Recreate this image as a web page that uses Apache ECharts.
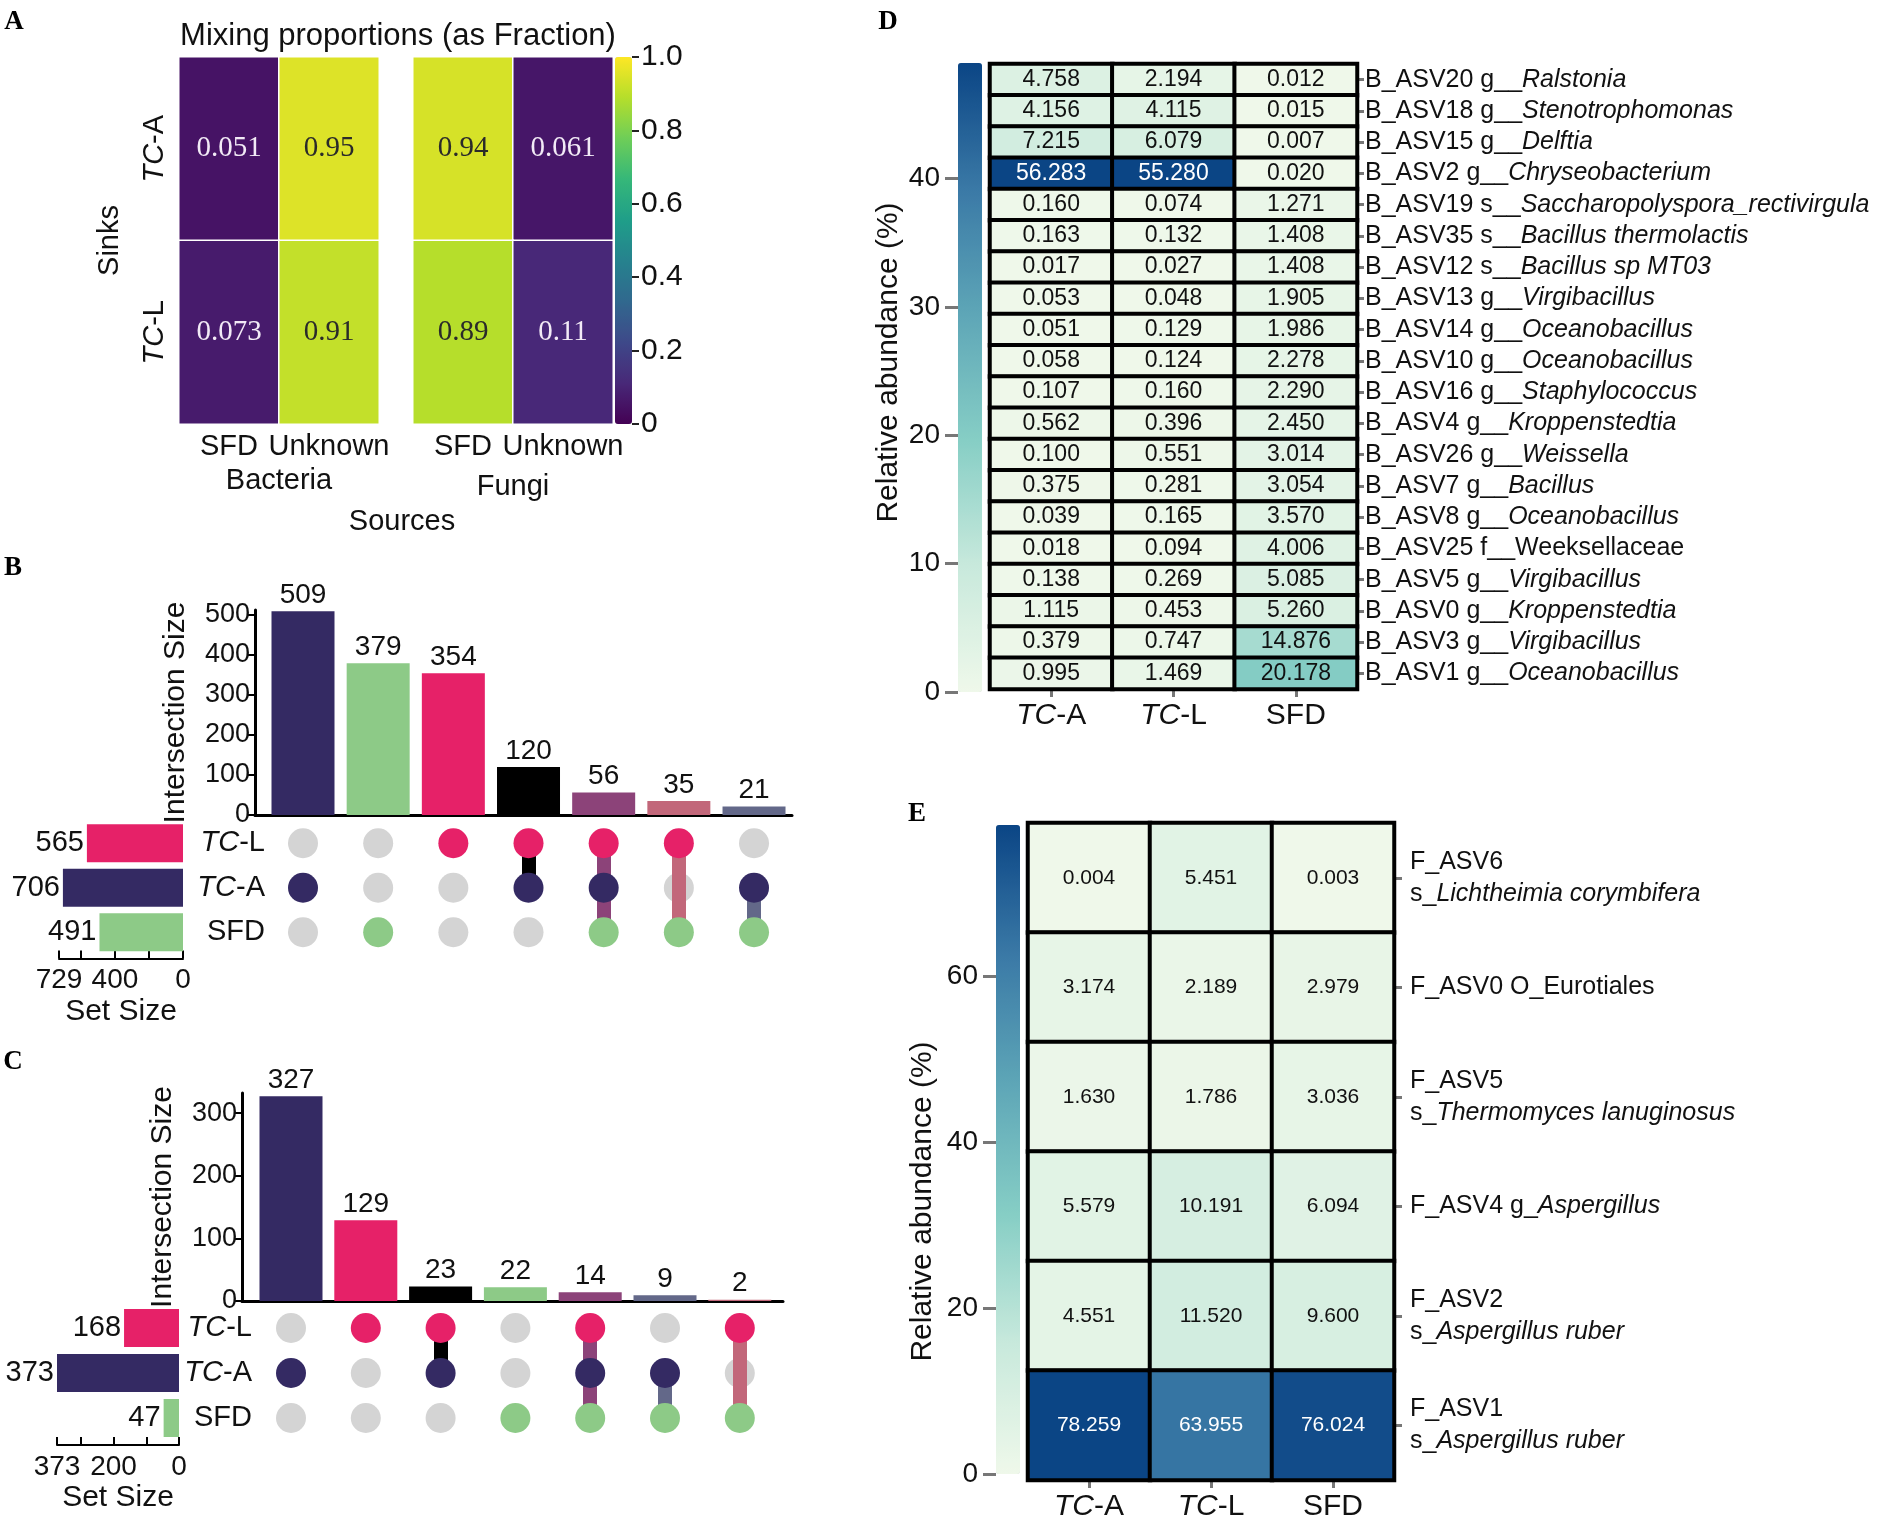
<!DOCTYPE html>
<html><head><meta charset="utf-8">
<script src="https://cdn.jsdelivr.net/npm/echarts@6/dist/echarts.min.js"></script>
<style>html,body{margin:0;padding:0;background:#fff}#c{width:1890px;height:1522px}</style>
</head><body><div id="c"></div>
<script>
// ================= DATA =================
// Panel A: SourceTracker mixing proportions
const aSinks = ['TC-A', 'TC-L'];
const aSources = ['SFD', 'Unknown'];
const aBacteria = [[0.051, 0.95], [0.073, 0.91]];   // rows = sinks, cols = sources
const aFungi = [[0.94, 0.061], [0.89, 0.11]];
const aColorTicks = [0, 0.2, 0.4, 0.6, 0.8, 1.0];

// Panels B, C: UpSet plots
const setNames = ['SFD', 'TC-A', 'TC-L'];            // bottom -> top
const bIntersections = [509, 379, 354, 120, 56, 35, 21];
const bMembers = [['TC-A'], ['SFD'], ['TC-L'], ['TC-L', 'TC-A'], ['TC-L', 'TC-A', 'SFD'], ['TC-L', 'SFD'], ['TC-A', 'SFD']];
const bSetSize = [491, 706, 565];                     // SFD, TC-A, TC-L
const bYTicks = [0, 100, 200, 300, 400, 500];
const bSetTicks = [0, 200, 400, 600, 729];
const bSetLabels = [0, 400, 729];

const cIntersections = [327, 129, 23, 22, 14, 9, 2];
const cMembers = [['TC-A'], ['TC-L'], ['TC-L', 'TC-A'], ['SFD'], ['TC-L', 'TC-A', 'SFD'], ['TC-A', 'SFD'], ['TC-L', 'SFD']];
const cSetSize = [47, 373, 168];
const cYTicks = [0, 100, 200, 300];
const cSetTicks = [0, 100, 200, 300, 373];
const cSetLabels = [0, 200, 373];

// Panel D: bacterial ASVs relative abundance (%)
const dCols = ['TC-A', 'TC-L', 'SFD'];
const dIds = ['B_ASV20', 'B_ASV18', 'B_ASV15', 'B_ASV2', 'B_ASV19', 'B_ASV35', 'B_ASV12', 'B_ASV13', 'B_ASV14', 'B_ASV10',
  'B_ASV16', 'B_ASV4', 'B_ASV26', 'B_ASV7', 'B_ASV8', 'B_ASV25', 'B_ASV5', 'B_ASV0', 'B_ASV3', 'B_ASV1'];
const dRank = ['g__', 'g__', 'g__', 'g__', 's__', 's__', 's__', 'g__', 'g__', 'g__',
  'g__', 'g__', 'g__', 'g__', 'g__', 'f__', 'g__', 'g__', 'g__', 'g__'];
const dTaxa = ['Ralstonia', 'Stenotrophomonas', 'Delftia', 'Chryseobacterium', 'Saccharopolyspora_rectivirgula',
  'Bacillus thermolactis', 'Bacillus sp MT03', 'Virgibacillus', 'Oceanobacillus', 'Oceanobacillus',
  'Staphylococcus', 'Kroppenstedtia', 'Weissella', 'Bacillus', 'Oceanobacillus', 'Weeksellaceae',
  'Virgibacillus', 'Kroppenstedtia', 'Virgibacillus', 'Oceanobacillus'];
const dTCA = [4.758, 4.156, 7.215, 56.283, 0.160, 0.163, 0.017, 0.053, 0.051, 0.058, 0.107, 0.562, 0.100, 0.375, 0.039, 0.018, 0.138, 1.115, 0.379, 0.995];
const dTCL = [2.194, 4.115, 6.079, 55.280, 0.074, 0.132, 0.027, 0.048, 0.129, 0.124, 0.160, 0.396, 0.551, 0.281, 0.165, 0.094, 0.269, 0.453, 0.747, 1.469];
const dSFD = [0.012, 0.015, 0.007, 0.020, 1.271, 1.408, 1.408, 1.905, 1.986, 2.278, 2.290, 2.450, 3.014, 3.054, 3.570, 4.006, 5.085, 5.260, 14.876, 20.178];
const dColorTicks = [0, 10, 20, 30, 40];
const dColorMax = 49;

// Panel E: fungal ASVs relative abundance (%)
const eCols = ['TC-A', 'TC-L', 'SFD'];
const eIds = ['F_ASV6', 'F_ASV0', 'F_ASV5', 'F_ASV4', 'F_ASV2', 'F_ASV1'];
const eRank = ['s_', 'O_', 's_', 'g_', 's_', 's_'];
const eTaxa = ['Lichtheimia corymbifera', 'Eurotiales', 'Thermomyces lanuginosus', 'Aspergillus', 'Aspergillus ruber', 'Aspergillus ruber'];
const eTCA = [0.004, 3.174, 1.630, 5.579, 4.551, 78.259];
const eTCL = [5.451, 2.189, 1.786, 10.191, 11.520, 63.955];
const eSFD = [0.003, 2.979, 3.036, 6.094, 9.600, 76.024];
const eColorTicks = [0, 20, 40, 60];

// ================= STYLE =================
const SANS = '"Liberation Sans", Arial, Helvetica, sans-serif';
const SERIF = '"Liberation Serif", "Times New Roman", serif';
const INK = '#111';
const VIRIDIS = ['#440154', '#482878', '#3e4989', '#31688e', '#26828e', '#1f9e89', '#35b779', '#6ece58', '#b5de2b', '#fde725'];
const GNBU = ['#eff8ea', '#c8e9dc', '#86cec5', '#5ea6b7', '#3a79a6', '#0b4585'];
const SET_COLOR = { 'TC-L': '#e62168', 'TC-A': '#342a63', 'SFD': '#8dca87' };
const MEMBER_COLOR = {
  'TC-A': '#342a63', 'SFD': '#8dca87', 'TC-L': '#e62168', 'TC-A|TC-L': '#000000',
  'SFD|TC-A|TC-L': '#8c4379', 'SFD|TC-L': '#c2677a', 'SFD|TC-A': '#636889'
};
const colorOf = m => MEMBER_COLOR[[...m].sort().join('|')];

function txt(size, extra) { return Object.assign({ fontSize: size, fontFamily: SANS, color: INK }, extra || {}); }
function tcRich(size) { return { i: txt(size, { fontStyle: 'italic' }), n: txt(size) }; }
function tcFmt(v) { return v.indexOf('TC') === 0 ? '{i|TC}{n|' + v.slice(2) + '}' : '{n|' + v + '}'; }

const grid = [], xAxis = [], yAxis = [], series = [], visualMap = [];
function panel(g, xa, ya) {
  const gi = grid.length;
  grid.push(g);
  xAxis.push(Object.assign({ gridIndex: gi }, xa));
  yAxis.push(Object.assign({ gridIndex: gi }, ya, { axisLine: Object.assign({ onZero: false }, ya.axisLine || {}) }));
  return gi;
}
const HIDDEN_VALUE = { type: 'value', min: 0, max: 1, show: false };

// ================= PANEL A =================
const aCellLabel = { show: true, fontFamily: SERIF, fontSize: 29, formatter: p => String(p.value[2]) };
function aData(m) {
  const out = [];
  m.forEach((row, i) => row.forEach((v, j) => out.push({ value: [j, i, v], label: { color: v > 0.5 ? '#2a2a2a' : '#f2eaf6' } })));
  return out;
}
const aXCommon = { type: 'category', data: aSources, axisLine: { show: false }, axisTick: { show: false },
  axisLabel: txt(29, { margin: 8, interval: 0, hideOverlap: false }), nameLocation: 'middle', nameTextStyle: txt(29) };
const gA1 = panel({ left: 179, top: 57, width: 200, height: 367 },
  Object.assign({}, aXCommon, { name: 'Bacteria', nameGap: 42 }),
  { type: 'category', data: aSinks, inverse: true, axisLine: { show: false }, axisTick: { show: false },
    axisLabel: { rotate: 90, margin: 10, interval: 0, formatter: tcFmt, rich: tcRich(29) },
    name: 'Sinks', nameLocation: 'middle', nameGap: 55, nameTextStyle: txt(29) });
const gA2 = panel({ left: 413, top: 57, width: 200, height: 367 },
  Object.assign({}, aXCommon, { name: 'Fungi', nameGap: 48 }),
  { type: 'category', data: aSinks, inverse: true, axisLine: { show: false }, axisTick: { show: false }, axisLabel: { show: false } });
const gA3 = panel({ left: 615, top: 57, width: 17, height: 367 }, HIDDEN_VALUE,
  { type: 'value', min: 0, max: 1, position: 'right', axisLine: { show: false }, splitLine: { show: false },
    axisTick: { show: true, customValues: aColorTicks, length: 7, lineStyle: { color: '#222', width: 2 } },
    axisLabel: txt(30, { customValues: aColorTicks, margin: 9, formatter: v => (v === 0 ? '0' : v.toFixed(1)) }) });
const sA1 = series.length;
series.push({ type: 'heatmap', xAxisIndex: gA1, yAxisIndex: gA1, data: aData(aBacteria), label: aCellLabel,
  itemStyle: { borderColor: '#fff', borderWidth: 1.5 }, emphasis: { disabled: true } });
series.push({ type: 'heatmap', xAxisIndex: gA2, yAxisIndex: gA2, data: aData(aFungi), label: aCellLabel,
  itemStyle: { borderColor: '#fff', borderWidth: 1.5 }, emphasis: { disabled: true } });
visualMap.push({ type: 'continuous', seriesIndex: [sA1, sA1 + 1], min: 0, max: 1, inRange: { color: VIRIDIS },
  left: 615, top: 57, itemWidth: 17, itemHeight: 367, padding: 0, calculable: false, hoverLink: false });

// ================= PANELS B & C (UpSet) =================
function upset(cfg) {
  const xr = left => ({ min: -(cfg.c0 - left) / cfg.pitch, max: (cfg.right - cfg.c0) / cfg.pitch });
  const gBar = panel({ left: cfg.axisX, top: cfg.barTop, width: cfg.right - cfg.axisX, height: cfg.base - cfg.barTop },
    Object.assign({ type: 'value', axisLine: { show: true, lineStyle: { color: '#000', width: 3 } }, axisTick: { show: false },
      axisLabel: { show: false }, splitLine: { show: false } }, xr(cfg.axisX)),
    { type: 'value', min: 0, max: cfg.yMax, axisLine: { show: true, lineStyle: { color: '#000', width: 3 } },
      axisTick: { show: true, customValues: cfg.yTicks, length: 7, lineStyle: { color: '#000', width: 2 } },
      axisLabel: txt(27, { customValues: cfg.yTicks, margin: 5 }), splitLine: { show: false },
      name: 'Intersection Size', nameLocation: 'middle', nameGap: cfg.nameGap, nameTextStyle: txt(30) });
  series.push({ type: 'bar', xAxisIndex: gBar, yAxisIndex: gBar, barWidth: cfg.barW,
    data: cfg.ints.map((v, i) => ({ value: [i, v], itemStyle: { color: colorOf(cfg.members[i]) } })),
    label: txt(28, { show: true, position: 'top', distance: 2, formatter: p => p.value[1] }), emphasis: { disabled: true } });

  const gMat = panel({ left: cfg.matLeft, top: cfg.matTop, width: cfg.right - cfg.matLeft, height: cfg.matH },
    Object.assign({ type: 'value', show: false }, xr(cfg.matLeft)),
    { type: 'category', data: setNames, axisLine: { show: false }, axisTick: { show: false },
      axisLabel: { formatter: tcFmt, rich: tcRich(29), margin: 10, align: 'right', interval: 0 } });
  const gray = [], lines = [], colored = [];
  cfg.members.forEach((m, i) => {
    setNames.forEach((s, k) => {
      if (m.indexOf(s) >= 0) colored.push({ value: [i, k], itemStyle: { color: SET_COLOR[s] } });
      else gray.push([i, k]);
    });
    if (m.length > 1) {
      const ks = m.map(s => setNames.indexOf(s));
      lines.push({ coords: [[i, Math.min(...ks)], [i, Math.max(...ks)]], lineStyle: { color: colorOf(m), width: 14, opacity: 1 } });
    }
  });
  series.push({ type: 'scatter', xAxisIndex: gMat, yAxisIndex: gMat, data: gray, symbolSize: cfg.dot,
    itemStyle: { color: '#d4d4d4', opacity: 1 }, z: 2, silent: true });
  series.push({ type: 'lines', coordinateSystem: 'cartesian2d', xAxisIndex: gMat, yAxisIndex: gMat, data: lines,
    lineStyle: { width: 14, opacity: 1, cap: 'butt' }, z: 3, silent: true });
  series.push({ type: 'scatter', xAxisIndex: gMat, yAxisIndex: gMat, data: colored, symbolSize: cfg.dot,
    itemStyle: { opacity: 1 }, z: 4, silent: true });

  const gSet = panel({ left: cfg.setLeft, top: cfg.matTop, width: cfg.setRight - cfg.setLeft, height: cfg.matH },
    { type: 'value', inverse: true, min: 0, max: cfg.setTicks[cfg.setTicks.length - 1], position: 'bottom', offset: cfg.setOffset,
      axisLine: { show: true, lineStyle: { color: '#000', width: 2 } },
      axisTick: { show: true, inside: true, customValues: cfg.setTicks, length: 8, lineStyle: { color: '#000', width: 2 } },
      axisLabel: txt(28, { customValues: cfg.setLabels, margin: 8 }), splitLine: { show: false },
      name: 'Set Size', nameLocation: 'middle', nameGap: 38, nameTextStyle: txt(30) },
    { type: 'category', data: setNames, show: false });
  series.push({ type: 'bar', xAxisIndex: gSet, yAxisIndex: gSet, barWidth: 38,
    data: cfg.setSize.map((v, k) => ({ value: v, itemStyle: { color: SET_COLOR[setNames[k]] } })),
    label: txt(29, { show: true, position: 'left', distance: 3 }), emphasis: { disabled: true } });
}
upset({ ints: bIntersections, members: bMembers, setSize: bSetSize, yMax: 512, yTicks: bYTicks,
  setTicks: bSetTicks, setLabels: bSetLabels, axisX: 255, right: 792, c0: 303, pitch: 75.17, barTop: 610, base: 815,
  barW: 63, nameGap: 64, matLeft: 275, matTop: 821, matH: 133.5, dot: 30, setLeft: 59, setRight: 183, setOffset: 4 });
upset({ ints: cIntersections, members: cMembers, setSize: cSetSize, yMax: 332, yTicks: cYTicks,
  setTicks: cSetTicks, setLabels: cSetLabels, axisX: 242, right: 783, c0: 291, pitch: 74.8, barTop: 1093, base: 1301,
  barW: 63, nameGap: 64, matLeft: 262, matTop: 1305.5, matH: 135, dot: 30, setLeft: 57, setRight: 179, setOffset: 4.5 });

// ================= PANELS D & E (heatmaps) =================
function abundance(cfg) {
  const gH = panel({ left: cfg.left, top: cfg.top, width: cfg.width, height: cfg.height },
    { type: 'category', data: cfg.cols, position: 'bottom', axisLine: { show: false },
      axisTick: { show: true, alignWithLabel: true, length: 8, lineStyle: { color: '#777', width: 3 } },
      axisLabel: { formatter: tcFmt, rich: tcRich(30), margin: 12, interval: 0 } },
    { type: 'category', data: cfg.ids, inverse: true, position: 'right', axisLine: { show: false },
      axisTick: { show: true, alignWithLabel: true, interval: 0, length: cfg.tickLen, lineStyle: { color: '#777', width: 3 } },
      axisLabel: { margin: cfg.labelMargin, interval: 0, formatter: cfg.rowFmt,
        rich: { n: txt(25, { lineHeight: 32 }), i: txt(25, { fontStyle: 'italic', lineHeight: 32 }) } } });
  const data = [];
  cfg.values.forEach((col, c) => col.forEach((v, r) => data.push({ value: [c, r, v], label: { color: v > 40 ? '#fff' : INK } })));
  const si = series.length;
  series.push({ type: 'heatmap', xAxisIndex: gH, yAxisIndex: gH, data,
    label: txt(cfg.cellFont, { show: true, formatter: p => p.value[2].toFixed(3) }),
    itemStyle: { borderColor: '#000', borderWidth: 4 }, emphasis: { disabled: true } });
  const cb = cfg.cbar;
  visualMap.push({ type: 'continuous', seriesIndex: si, min: 0, max: cfg.max, inRange: { color: GNBU },
    left: cb.left, top: cb.top, itemWidth: cb.width, itemHeight: cb.height, padding: 0, calculable: false, hoverLink: false });
  panel({ left: cb.left, top: cb.top, width: cb.width, height: cb.height }, HIDDEN_VALUE,
    { type: 'value', min: 0, max: cfg.max, position: 'left', axisLine: { show: false }, splitLine: { show: false },
      axisTick: { show: true, customValues: cfg.ticks, length: 13, lineStyle: { color: '#777', width: 3 } },
      axisLabel: txt(28, { customValues: cfg.ticks, margin: 18 }),
      name: 'Relative abundance (%)', nameLocation: 'middle', nameGap: cfg.nameGap,
      nameTextStyle: txt(30, { padding: cfg.namePad }) });
}
abundance({ cols: dCols, ids: dIds, values: [dTCA, dTCL, dSFD], max: dColorMax, ticks: dColorTicks,
  left: 990, top: 64, width: 367, height: 625, tickLen: 7, labelMargin: 8, cellFont: 23,
  rowFmt: (v, i) => dRank[i] === 'f__' ? '{n|' + dIds[i] + ' ' + dRank[i] + dTaxa[i] + '}' : '{n|' + dIds[i] + ' ' + dRank[i] + '}{i|' + dTaxa[i] + '}',
  cbar: { left: 958, top: 63, width: 24, height: 629 }, nameGap: 54, namePad: [0, 0, 0, 30] });
abundance({ cols: eCols, ids: eIds, values: [eTCA, eTCL, eSFD], max: Math.max(...eTCA, ...eTCL, ...eSFD), ticks: eColorTicks,
  left: 1028, top: 823, width: 366, height: 657, tickLen: 8, labelMargin: 16, cellFont: 21,
  rowFmt: (v, i) => eRank[i] === 's_' ? '{n|' + eIds[i] + '}\n{n|' + eRank[i] + '}{i|' + eTaxa[i] + '}'
    : eRank[i] === 'O_' ? '{n|' + eIds[i] + ' ' + eRank[i] + eTaxa[i] + '}'
    : '{n|' + eIds[i] + ' ' + eRank[i] + '}{i|' + eTaxa[i] + '}',
  cbar: { left: 996, top: 825, width: 24, height: 649 }, nameGap: 58, namePad: [0, 104, 0, 0] });

// ================= TEXT =================
const letter = (t, x, y) => ({ type: 'text', x, y, style: { text: t, font: 'bold 27px ' + SERIF, fill: '#000', align: 'center', verticalAlign: 'middle' } });
const graphic = [
  letter('A', 14, 22), letter('B', 13, 568), letter('C', 13, 1062), letter('D', 888, 22), letter('E', 917, 814),
  { type: 'text', x: 398, y: 36, style: { text: 'Mixing proportions (as Fraction)', font: '31px ' + SANS, fill: INK, align: 'center', verticalAlign: 'middle' } },
  { type: 'text', x: 402, y: 522, style: { text: 'Sources', font: '29px ' + SANS, fill: INK, align: 'center', verticalAlign: 'middle' } }
];

const chart = echarts.init(document.getElementById('c'), null, { renderer: 'canvas' });
chart.setOption({ animation: false, backgroundColor: '#fff', grid, xAxis, yAxis, series, visualMap, graphic });
</script></body></html>
